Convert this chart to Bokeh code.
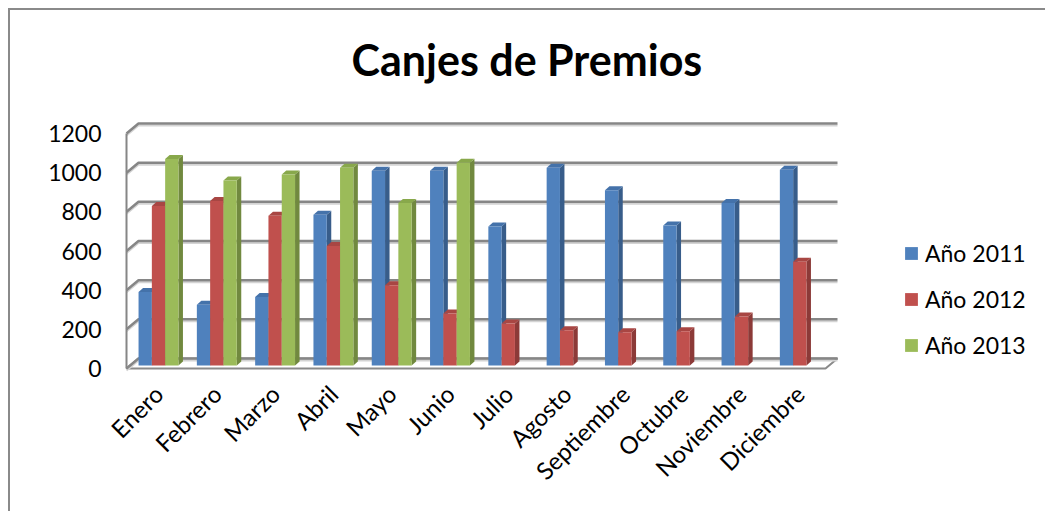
import numpy as np
from bokeh.plotting import figure
from bokeh.models import (Range1d, FixedTicker, Legend, LegendItem,
                          InlineStyleSheet)
from bokeh.embed import file_html
from bokeh.resources import INLINE

# ---------------- data ----------------
months = ["Enero", "Febrero", "Marzo", "Abril", "Mayo", "Junio", "Julio",
          "Agosto", "Septiembre", "Octubre", "Noviembre", "Diciembre"]
series_names = ["Año 2011", "Año 2012", "Año 2013"]
y2011 = [375, 310, 350, 770, 995, 995, 710, 1010, 895, 715, 830, 1000]
y2012 = [815, 840, 765, 610, 410, 265, 215, 180, 170, 175, 250, 530]
y2013 = [1055, 945, 975, 1010, 830, 1035, None, None, None, None, None, None]
yticks = [0, 200, 400, 600, 800, 1000, 1200]

# ---------------- geometry (pixels -> data) ----------------
W, H = 1045, 511
FL, FR, FT, FB = 120, 1045, 112, 372      # frame edges in px
PX_X = 58.3                               # px per category
C0 = 158                                  # px of first category centre
Y0 = 368                                  # px of value 0 on the front plane
PX_Y = 235.0 / 1200.0                     # px per value unit

x_start = -(C0 - FL) / PX_X
x_end = (FR - C0) / PX_X
y_start = -(FB - Y0) / PX_Y
y_end = (Y0 - FT) / PX_Y

dxw, dyw = 12 / PX_X, 10 / PX_Y           # wall depth
xl = (126 - C0) / PX_X                    # front-left corner
xr_back = (837 - C0) / PX_X               # back-right end of the walls
bw = 13.3 / PX_X                          # bar width
dxb, dyb = 4.5 / PX_X, 4 / PX_Y           # bar depth
base = (Y0 - 365) / PX_Y                  # bar base (front face)

FONT = "Lato"

p = figure(width=W, height=H, x_range=Range1d(x_start, x_end),
           y_range=Range1d(y_start, y_end), output_backend="svg",
           toolbar_location=None, min_border_left=FL, min_border_right=W - FR,
           min_border_top=FT, min_border_bottom=H - FB,
           outline_line_color=None, background_fill_color="white",
           border_fill_color="white")
p.xgrid.visible = False
p.ygrid.visible = False

# chart border (left and top edges of the chart area)
p.stylesheets = [InlineStyleSheet(css="""
:host { position: relative; }
:host::after {
  content: ''; position: absolute; left: 8px; top: 8px;
  width: calc(100% - 8px); height: calc(100% - 8px);
  box-sizing: border-box;
  border-left: 2px solid #8a8a8a; border-top: 2px solid #8a8a8a;
  pointer-events: none; z-index: 100;
}
""")]

# floor
p.patch([xl, xl + dxw, xr_back, xr_back - dxw], [0, dyw, dyw, 0],
        fill_color="white", line_color="#8a8a8a", line_width=2)

# back-wall gridlines (with light shadow)
gx = [[xl, xl + dxw, xr_back] for v in yticks]
gy_sh = [[v - 2 / PX_Y, v + dyw - 2 / PX_Y, v + dyw - 2 / PX_Y] for v in yticks]
gy = [[v, v + dyw, v + dyw] for v in yticks]
p.multi_line(gx, gy_sh, line_color="#d4d4d4", line_width=2)
p.multi_line(gx, gy, line_color="#868686", line_width=2.5)
# left wall front edge
p.line([xl, xl], [0, yticks[-1]], line_color="#868686", line_width=2)

# bars
fronts = ["#4F81BD", "#C0504D", "#9BBB59"]
sides = ["#385D8A", "#8C3A38", "#71893F"]
caps = ["#4472AA", "#A84643", "#88A84B"]
renderers = []
for s, vals in enumerate([y2011, y2012, y2013]):
    idx = [i for i, v in enumerate(vals) if v is not None]
    v = np.array([vals[i] for i in idx], dtype=float)
    cx = np.array(idx, dtype=float) + (s - 1) * bw
    x0 = cx - bw / 2
    x1 = cx + bw / 2
    top = v + base
    side_xs = [[a, a + dxb, a + dxb, a] for a in x1]
    side_ys = [[base, base + dyb, t + dyb, t] for t in top]
    cap_xs = [[a, b, b + dxb, a + dxb] for a, b in zip(x0, x1)]
    cap_ys = [[t, t, t + dyb, t + dyb] for t in top]
    p.patches(side_xs, side_ys, fill_color=sides[s], line_color=None)
    p.patches(cap_xs, cap_ys, fill_color=caps[s], line_color=None)
    r = p.quad(left=x0, right=x1, bottom=base, top=top,
               fill_color=fronts[s], line_color=None)
    renderers.append(r)

# axes
p.yaxis.ticker = FixedTicker(ticks=yticks)
p.yaxis.axis_line_color = None
p.yaxis.major_tick_line_color = None
p.yaxis.minor_tick_line_color = None
p.yaxis.major_tick_out = 0
p.yaxis.major_label_standoff = 19
p.yaxis.major_label_text_font = FONT
p.yaxis.major_label_text_font_size = "23px"
p.yaxis.major_label_text_color = "black"

p.xaxis.ticker = FixedTicker(ticks=list(range(len(months))))
p.xaxis.major_label_overrides = {i: m for i, m in enumerate(months)}
p.xaxis.major_label_orientation = np.pi / 4
p.xaxis.axis_line_color = None
p.xaxis.major_tick_line_color = None
p.xaxis.minor_tick_line_color = None
p.xaxis.major_tick_out = 0
p.xaxis.major_label_standoff = 17
p.xaxis.major_label_text_font = FONT
p.xaxis.major_label_text_font_size = "24px"
p.xaxis.major_label_text_color = "black"

# title
p.title.text = "Canjes de Premios"
p.title.text_font = FONT
p.title.text_font_style = "bold"
p.title.text_font_size = "43px"
p.title.text_color = "black"
p.title.align = "left"
p.title.offset = 231
p.title.standoff = 56

# legend
legend = Legend(items=[LegendItem(label=n, renderers=[r])
                       for n, r in zip(series_names, renderers)],
                location=(783, 13), padding=0, margin=0, spacing=18,
                glyph_width=16, glyph_height=16, label_height=24,
                label_standoff=6, label_text_font=FONT,
                label_text_font_size="23px", label_text_color="black",
                border_line_color=None, background_fill_alpha=0)
p.add_layout(legend)

open("out.html", "w").write(file_html(p, INLINE))
